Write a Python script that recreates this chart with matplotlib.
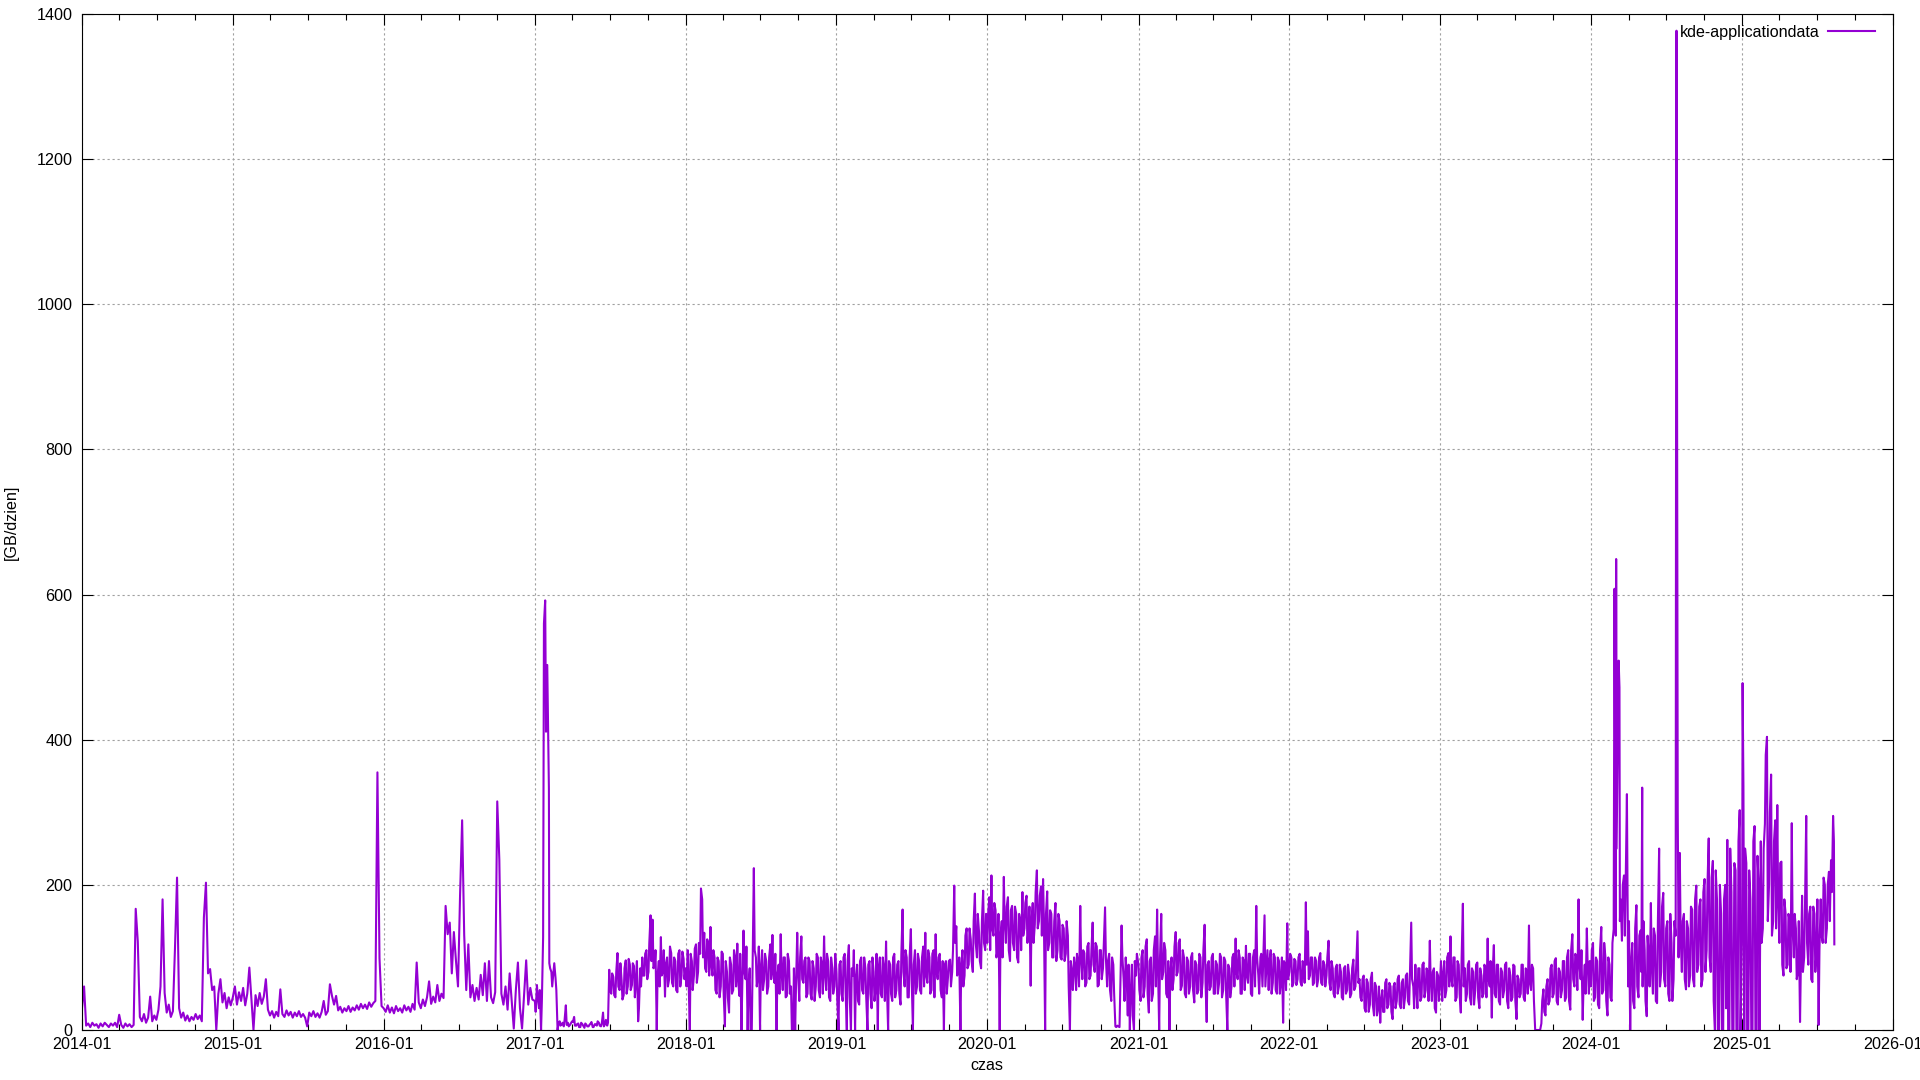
import datetime as dt
import matplotlib
matplotlib.use("Agg")
import matplotlib.pyplot as plt
import matplotlib.dates as mdates

plt.rcParams['font.family'] = ['Liberation Sans', 'DejaVu Sans']

# daily traffic of kde-applicationdata, every 5 days from 1 Jan
y2014 = [30, 60, 6, 9, 4, 10, 6, 8, 3, 9, 5, 10, 7, 4, 9, 6, 10, 4, 21, 7, 3, 9, 5, 8, 4, 7,
         167, 122, 18, 12, 22, 10, 17, 46, 12, 20, 14, 28, 60, 180, 51, 24, 35, 18, 26, 112, 210,
         30, 17, 24, 13, 20, 12, 18, 14, 22, 15, 20, 12, 155, 203, 78, 84, 55, 60, 0, 50, 70, 38,
         51, 30, 45, 34]
y2015 = [45, 60, 35, 52, 40, 58, 34, 50, 86, 44, 0, 48, 33, 51, 36, 46, 70, 28, 20, 26, 17, 25,
         19, 56, 22, 18, 27, 20, 25, 17, 24, 19, 26, 18, 22, 17, 5, 24, 19, 26, 18, 23, 17, 25, 40,
         21, 26, 63, 47, 35, 47, 27, 32, 24, 30, 26, 33, 25, 31, 27, 34, 28, 36, 30, 35, 29, 38, 32,
         37, 40, 355, 99, 33]
y2016 = [30, 25, 34, 24, 31, 23, 33, 26, 30, 24, 34, 27, 32, 25, 36, 28, 93, 38, 30, 42, 33, 45,
         67, 36, 46, 38, 62, 40, 50, 44, 171, 132, 148, 78, 135, 96, 60, 186, 289, 131, 55, 118, 45,
         62, 40, 58, 42, 76, 48, 92, 40, 95, 45, 37, 52, 315, 235, 50, 35, 60, 28, 78, 40, 2, 55, 93,
         30, 2, 48, 96, 35, 58, 42]
y2017 = [40, 62, 30, 0, 128, 592, 503, 92, 80, 80, 72, 0, 12, 8, 5, 34, 10, 7, 12, 18, 6, 9, 4, 8,
         3, 7, 5, 9, 4, 8, 6, 10, 5, 24, 8, 6, 83, 50, 73, 45, 106, 55, 68, 48, 96, 60, 90, 62, 88,
         70, 12, 85, 100, 75, 110, 80, 158, 152, 90, 0, 95, 128, 80, 46, 100, 70, 106, 60, 95, 52,
         110, 75, 98]
y2018 = [85, 110, 0, 95, 75, 118, 80, 105, 180, 134, 80, 120, 142, 75, 100, 50, 95, 60, 105, 5, 80,
         24, 90, 55, 100, 119, 47, 0, 137, 70, 0, 85, 0, 223, 100, 75, 0, 110, 70, 95, 60, 118, 131,
         65, 0, 90, 132, 55, 100, 47, 95, 60, 0, 0, 134, 40, 129, 65, 100, 50, 95, 42, 85, 60, 100,
         45, 90, 129, 55, 95, 40, 85, 60]
y2019 = [80, 0, 95, 40, 105, 0, 117, 0, 75, 0, 90, 35, 100, 50, 85, 0, 95, 30, 80, 60, 0, 100, 45,
         85, 122, 0, 90, 40, 105, 55, 95, 35, 166, 60, 100, 45, 139, 0, 110, 60, 95, 50, 115, 134,
         65, 100, 55, 110, 132, 70, 105, 45, 0, 95, 74, 97, 80, 199, 143, 85, 0, 110, 75, 140, 90,
         125, 80, 188, 100, 135, 85, 192, 110]
y2020 = [120, 183, 213, 130, 165, 110, 0, 150, 211, 120, 183, 95, 171, 110, 160, 93, 150, 190, 140,
         185, 139, 61, 175, 145, 220, 150, 198, 208, 0, 191, 120, 160, 100, 175, 110, 150, 97, 140,
         105, 130, 0, 80, 100, 55, 90, 171, 70, 106, 65, 120, 75, 148, 80, 115, 62, 110, 85, 169, 60,
         105, 40, 90, 5, 6, 4, 144, 70, 100, 20, 0, 90, 0, 75]
y2021 = [90, 40, 110, 60, 125, 24, 100, 50, 129, 166, 0, 160, 80, 110, 45, 0, 100, 70, 135, 80, 125,
         61, 100, 45, 95, 60, 106, 38, 90, 55, 100, 65, 145, 11, 95, 60, 105, 50, 90, 65, 100, 55, 95,
         0, 85, 60, 105, 126, 70, 100, 50, 95, 116, 65, 105, 47, 110, 171, 75, 100, 60, 158, 90, 55,
         110, 65, 100, 50, 95, 70, 10, 90, 147]
y2022 = [80, 100, 65, 95, 70, 105, 61, 90, 176, 136, 75, 100, 65, 95, 70, 106, 62, 90, 75, 123, 55,
         85, 45, 90, 60, 80, 42, 88, 55, 75, 50, 97, 60, 136, 70, 40, 75, 25, 65, 35, 79, 20, 60, 30,
         10, 55, 25, 70, 35, 60, 15, 65, 40, 75, 30, 70, 45, 78, 35, 148, 60, 90, 30, 85, 45, 93, 55,
         80, 123, 40, 85, 24, 75]
y2023 = [70, 40, 95, 55, 106, 129, 60, 100, 45, 90, 24, 174, 85, 50, 95, 35, 80, 55, 93, 30, 75, 50,
         85, 126, 60, 17, 117, 45, 90, 35, 80, 55, 93, 30, 75, 45, 88, 15, 70, 50, 90, 40, 80, 144, 55,
         85, 0, 0, 0, 9, 56, 20, 70, 40, 90, 50, 99, 35, 80, 55, 95, 45, 110, 28, 132, 60, 100, 180,
         70, 14, 90, 140, 50]
y2024 = [60, 120, 45, 95, 30, 142, 55, 100, 20, 90, 40, 139, 130, 413, 150, 123, 213, 241, 60, 0,
         120, 30, 172, 45, 137, 60, 110, 19, 100, 175, 50, 130, 37, 250, 80, 189, 60, 150, 40, 120, 70,
         130, 303, 244, 80, 160, 56, 140, 75, 166, 60, 199, 90, 180, 70, 208, 110, 264, 80, 233, 0,
         180, 0, 160, 0, 200, 262, 0, 190, 0, 220, 0, 303]
y2025 = [150, 0, 230, 0, 180, 0, 281, 0, 200, 260, 140, 284, 404, 200, 352, 150, 289, 310, 120, 232,
         75, 161, 90, 150, 285, 100, 140, 80, 11, 185, 100, 295, 90, 170, 66, 160, 110, 7, 180, 120,
         200, 140, 218, 234, 295]

# second reading two days later, from 2017 on where the daily band is dense
m2017 = [25, 45, 55, 40, 560, 411, 420, 85, 60, 92, 55, 8, 6, 10, 14, 7, 5, 9, 11, 6, 8, 4, 10, 6,
         9, 5, 7, 11, 4, 8, 12, 6, 9, 5, 14, 10, 55, 78, 48, 80, 60, 92, 42, 85, 50, 98, 55, 92, 45,
         95, 30, 60, 75, 105, 70, 120, 95, 85, 110, 75, 60, 75, 110, 90, 60, 115, 65, 100, 55, 105,
         60, 108, 70]
m2018 = [60, 70, 105, 55, 112, 65, 120, 195, 100, 85, 125, 75, 90, 110, 55, 100, 45, 108, 50, 95,
         45, 100, 50, 110, 60, 70, 105, 60, 80, 115, 60, 0, 90, 110, 60, 115, 85, 55, 105, 50, 100,
         70, 80, 105, 75, 50, 80, 100, 45, 105, 50, 0, 85, 60, 80, 100, 70, 95, 45, 100, 50, 95, 40,
         105, 55, 100, 50, 80, 105, 45, 100, 50, 105]
m2019 = [40, 90, 50, 100, 55, 95, 45, 85, 110, 70, 40, 95, 55, 100, 45, 90, 50, 100, 40, 105, 85,
         50, 100, 40, 60, 95, 50, 100, 45, 90, 50, 105, 80, 110, 45, 100, 70, 90, 50, 105, 55, 100,
         60, 75, 110, 50, 105, 45, 80, 100, 55, 95, 90, 50, 95, 60, 110, 120, 75, 100, 90, 60, 130,
         85, 140, 95, 150, 120, 160, 95, 150, 120, 160]
m2020 = [160, 110, 140, 175, 100, 160, 130, 100, 150, 170, 110, 165, 120, 170, 100, 160, 110, 130,
         175, 120, 170, 150, 120, 190, 140, 185, 130, 150, 160, 110, 165, 100, 150, 95, 160, 100, 145,
         95, 150, 60, 95, 55, 90, 105, 60, 100, 110, 60, 115, 70, 110, 90, 120, 60, 110, 70, 120, 100,
         95, 55, 100, 50, 4, 5, 60, 100, 40, 80, 90, 50, 20, 95, 105]
m2021 = [55, 100, 45, 115, 50, 95, 40, 110, 60, 90, 100, 70, 120, 50, 95, 80, 55, 115, 75, 120, 55,
         110, 50, 100, 50, 100, 55, 95, 50, 105, 45, 110, 70, 90, 55, 100, 50, 95, 50, 105, 45, 100,
         50, 90, 45, 100, 60, 80, 110, 50, 100, 55, 75, 105, 50, 100, 60, 100, 50, 105, 100, 60, 110,
         95, 50, 105, 55, 100, 50, 100, 95, 55, 70]
m2022 = [105, 60, 98, 62, 100, 66, 95, 65, 90, 70, 100, 62, 100, 60, 100, 65, 95, 60, 100, 65, 95,
         50, 85, 50, 90, 45, 85, 50, 90, 45, 85, 55, 90, 65, 45, 70, 30, 70, 25, 70, 35, 65, 20, 60,
         40, 25, 65, 30, 65, 25, 60, 30, 70, 35, 65, 30, 75, 40, 80, 70, 30, 60, 85, 40, 90, 45, 85,
         40, 70, 80, 30, 80, 40]
m2023 = [95, 75, 45, 100, 60, 70, 100, 40, 95, 50, 100, 60, 40, 90, 45, 85, 35, 90, 45, 85, 45, 90,
         45, 70, 95, 80, 50, 90, 40, 85, 45, 90, 40, 85, 40, 90, 40, 75, 45, 90, 45, 85, 50, 65, 90,
         40, 0, 0, 0, 40, 25, 60, 35, 85, 45, 95, 40, 85, 45, 95, 40, 100, 40, 110, 70, 105, 55, 90,
         110, 60, 50, 90, 95]
m2024 = [110, 40, 100, 35, 110, 50, 120, 40, 100, 45, 120, 608, 250, 509, 180, 200, 130, 325, 150,
         90, 40, 140, 60, 130, 80, 150, 40, 130, 60, 90, 140, 40, 150, 60, 170, 70, 140, 50, 160, 40,
         150, 1377, 100, 130, 150, 70, 150, 60, 170, 70, 180, 80, 170, 60, 190, 80, 200, 100, 210, 40,
         220, 0, 200, 0, 180, 30, 0, 250, 0, 230, 0, 260, 0]
m2025 = [400, 250, 0, 220, 0, 260, 0, 240, 0, 120, 250, 379, 150, 300, 130, 260, 140, 180, 230, 90,
         180, 85, 160, 80, 140, 160, 70, 150, 90, 80, 170, 120, 160, 70, 170, 80, 180, 110, 130, 210,
         120, 200, 150, 190, 260]

# single days that fall between the readings (spikes, last day)
extra_dates = ["2017-02-04", "2024-03-02", "2024-03-04", "2024-03-10", "2024-05-04", "2024-07-25",
               "2025-01-02", "2025-01-04", "2025-08-12"]
extra_values = [333, 649, 303, 472, 334, 874, 478, 335, 118]

yearly = {2014: y2014, 2015: y2015, 2016: y2016, 2017: y2017, 2018: y2018, 2019: y2019,
          2020: y2020, 2021: y2021, 2022: y2022, 2023: y2023, 2024: y2024, 2025: y2025}
second = {2017: m2017, 2018: m2018, 2019: m2019, 2020: m2020, 2021: m2021, 2022: m2022,
          2023: m2023, 2024: m2024, 2025: m2025}

points = []
for table, offset in ((yearly, 0), (second, 2)):
    for year, vals in table.items():
        start = dt.datetime(year, 1, 1)
        for i, v in enumerate(vals):
            points.append((start + dt.timedelta(days=5 * i + offset), v))
for d, v in zip(extra_dates, extra_values):
    points.append((dt.datetime.strptime(d, "%Y-%m-%d"), v))
points.sort(key=lambda p: p[0])
dates = [p[0] for p in points]
values = [p[1] for p in points]

fs = 11.6

fig = plt.figure(figsize=(19.2, 10.8), dpi=100)
ax = fig.add_axes([82 / 1920, 50 / 1080, (1893 - 82) / 1920, (1030 - 14) / 1080])

ax.plot(dates, values, color='#9400d3', lw=1.5, label='kde-applicationdata')

ax.set_xlim(dt.datetime(2014, 1, 1), dt.datetime(2026, 1, 1))
ax.set_ylim(0, 1400)
ax.set_yticks(range(0, 1401, 200))
ax.xaxis.set_major_locator(mdates.YearLocator())
ax.xaxis.set_minor_locator(mdates.MonthLocator(bymonth=[4, 7, 10]))
ax.xaxis.set_major_formatter(mdates.DateFormatter('%Y-%m'))

ax.grid(True, which='major', color='#a0a0a0', lw=0.8, linestyle=(0, (2, 2.5)))
ax.tick_params(which='both', direction='in', top=True, right=True, labelsize=fs, width=0.8)
ax.tick_params(which='major', length=8)
ax.tick_params(which='minor', length=4)
ax.tick_params(axis='x', pad=5)
ax.tick_params(axis='y', pad=7)
for s in ax.spines.values():
    s.set_linewidth(0.8)

fig.text(11 / 1920, 1 - 522 / 1080, '[GB/dzien]', rotation=90, ha='center', va='center', fontsize=fs)
fig.text(987 / 1920, 1 - 1066 / 1080, 'czas', ha='center', va='center', fontsize=fs)

ax.legend(loc='center right', bbox_to_anchor=(0.990, 0.982), markerfirst=False, frameon=False,
          borderaxespad=0, borderpad=0, handlelength=2.9, handletextpad=0.55, fontsize=fs)

fig.savefig('out.png', dpi=100)
